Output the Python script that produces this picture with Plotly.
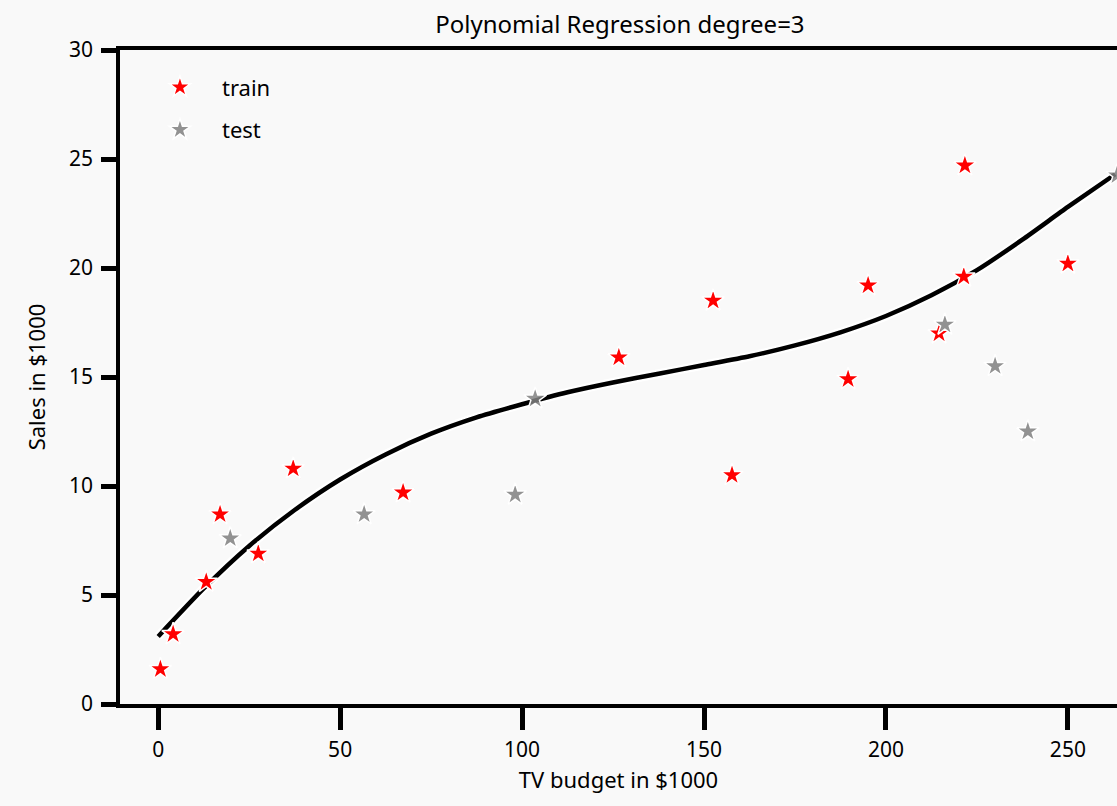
import plotly.graph_objects as go

# Train data (TV budget, Sales)
train_x = [0.6, 4.1, 13.2, 17.0, 27.5, 37.1, 67.3, 126.6, 152.5, 157.7, 189.6, 195.1, 214.6, 221.4, 221.7, 250.0]
train_y = [1.6, 3.2, 5.6, 8.7, 6.9, 10.8, 9.7, 15.9, 18.5, 10.5, 14.9, 19.2, 17.0, 19.6, 24.7, 20.2]

# Test data
test_x = [19.8, 56.6, 98.1, 103.6, 216.2, 230.0, 239.0, 263.5]
test_y = [7.6, 8.7, 9.6, 14.0, 17.4, 15.5, 12.5, 24.25]

# Fitted polynomial curve
curve_x = [0, 12.5, 25, 37.5, 50, 62.5, 75, 87.5, 100, 112.5, 125, 137.5, 150, 162.5, 175, 187.5, 200, 212.5, 225, 237.5, 250, 263]
curve_y = [3.1, 5.3, 7.25, 8.9, 10.3, 11.45, 12.4, 13.15, 13.75, 14.3, 14.75, 15.15, 15.55, 15.95, 16.45, 17.05, 17.8, 18.75, 19.9, 21.3, 22.8, 24.3]

x_ticks = [0, 50, 100, 150, 200, 250]
y_ticks = [0, 5, 10, 15, 20, 25, 30]

FONT = "Noto Sans"

fig = go.Figure()

# white halo under the fitted line
fig.add_trace(go.Scatter(x=curve_x, y=curve_y, mode="lines",
                         line=dict(color="white", width=9, shape="spline", smoothing=0.6),
                         showlegend=False, hoverinfo="skip"))
fig.add_trace(go.Scatter(x=curve_x, y=curve_y, mode="lines",
                         line=dict(color="black", width=4.5, shape="spline", smoothing=0.6),
                         showlegend=False))

fig.add_trace(go.Scatter(x=train_x, y=train_y, mode="markers", name="train",
                         legendgroup="a",
                         marker=dict(symbol="star", size=17, color="red",
                                     line=dict(color="white", width=1.5))))
fig.add_trace(go.Scatter(x=test_x, y=test_y, mode="markers", name="test",
                         legendgroup="b",
                         marker=dict(symbol="star", size=17, color="rgba(128,128,128,0.85)",
                                     line=dict(color="white", width=1.5))))

fig.update_layout(
    width=1117, height=806,
    margin=dict(l=120, r=0, t=50, b=102),
    paper_bgcolor="#f9f9f9", plot_bgcolor="#f9f9f9",
    font=dict(family=FONT, size=20, color="black"),
    title=dict(text="Polynomial Regression degree=3", x=0.555, xanchor="center",
               y=0.97, yanchor="middle", font=dict(size=24)),
    showlegend=True,
    legend=dict(x=0.018, y=0.975, xanchor="left", yanchor="top",
                bgcolor="rgba(0,0,0,0)", font=dict(size=22),
                itemsizing="trace", tracegroupgap=11, itemwidth=74),
)

fig.update_xaxes(
    range=[-10.5, 263.5], tickvals=x_ticks, ticktext=[str(v) for v in x_ticks],
    showgrid=False, zeroline=False,
    showline=True, linecolor="black", linewidth=3.5, mirror=True,
    ticks="outside", ticklen=22, tickwidth=5, tickcolor="black",
    tickfont=dict(size=21), ticklabelstandoff=2,
    title=dict(text="TV budget in $1000", font=dict(size=22), standoff=12),
)
fig.update_yaxes(
    range=[0, 30], tickvals=y_ticks, ticktext=[str(v) for v in y_ticks],
    showgrid=False, zeroline=False,
    showline=True, linecolor="black", linewidth=3.5, mirror=False,
    ticks="outside", ticklen=15, tickwidth=5, tickcolor="black",
    tickfont=dict(size=21), ticklabelstandoff=4,
    title=dict(text="Sales in $1000", font=dict(size=22), standoff=18),
)

fig.write_html("out.html")
